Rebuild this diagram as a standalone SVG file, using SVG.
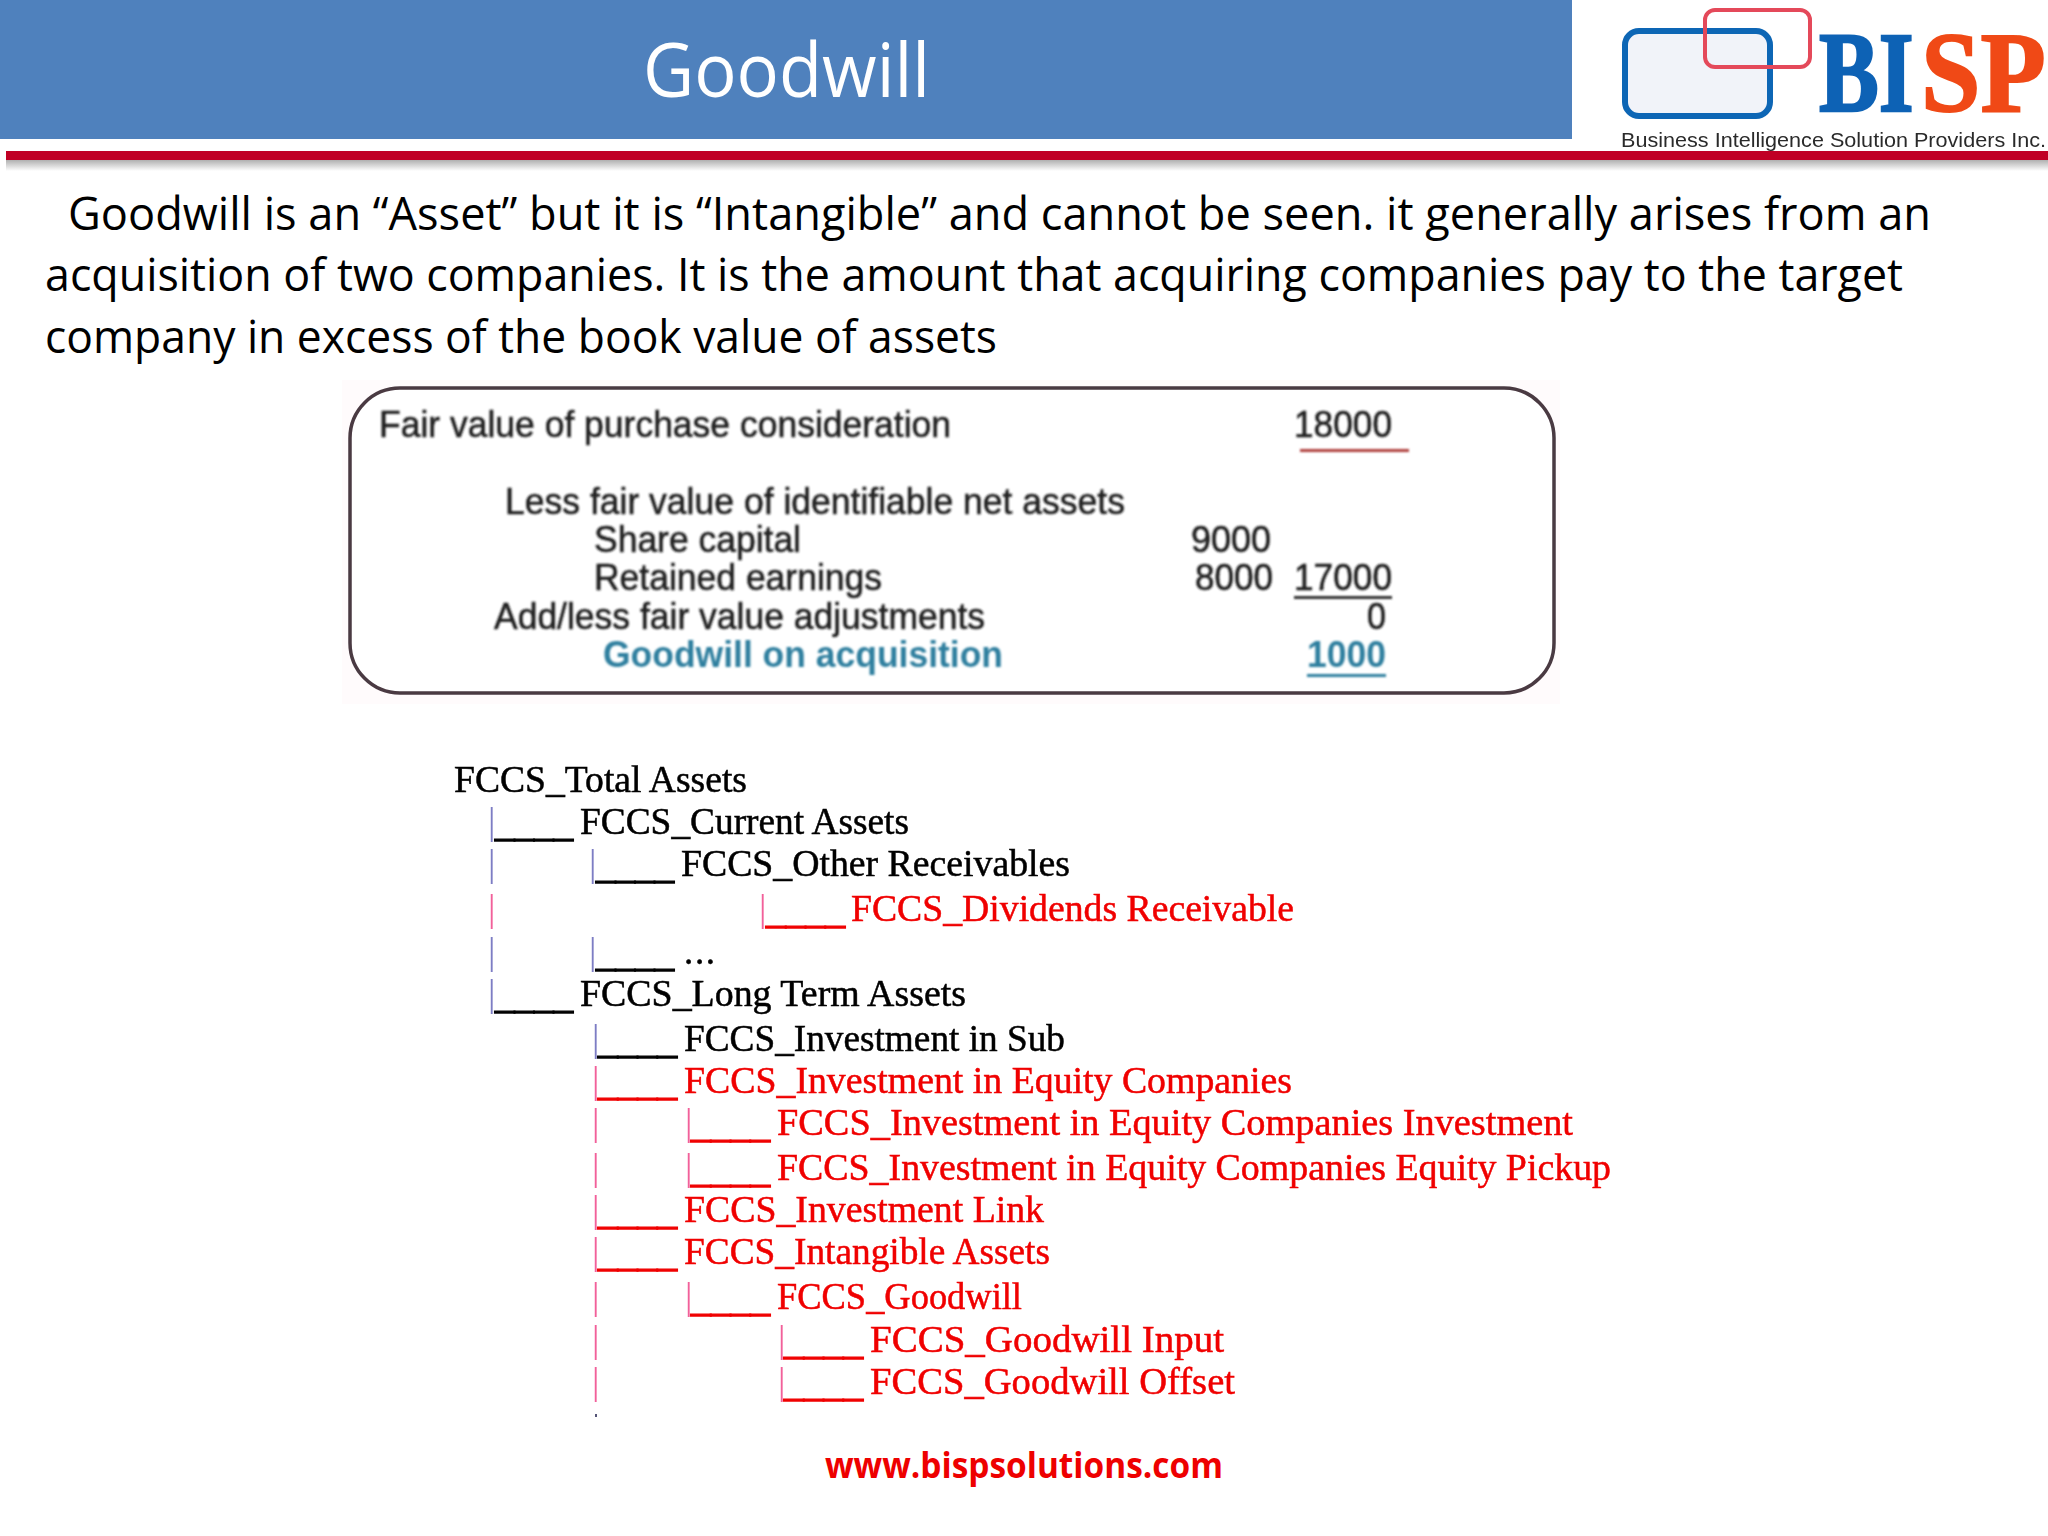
<svg xmlns="http://www.w3.org/2000/svg" width="2048" height="1536" viewBox="0 0 2048 1536">
<defs>
<filter id="soft" x="-5%" y="-5%" width="110%" height="110%"><feGaussianBlur stdDeviation="0.9"/></filter>
<filter id="softer" x="-5%" y="-5%" width="110%" height="110%"><feGaussianBlur stdDeviation="0.6"/></filter>
<linearGradient id="shadow" x1="0" y1="0" x2="0" y2="1"><stop offset="0" stop-color="#b0b0b0"/><stop offset="1" stop-color="#ffffff"/></linearGradient>
</defs>
<style>
.body{font-family:"Open Sans",sans-serif;font-size:46px;fill:#000000}
.tbl{font-family:"Liberation Sans",Arial,sans-serif;font-size:36px;fill:#1c1c1c;stroke:#1c1c1c;stroke-width:.5px}
.gw{font-family:"Liberation Sans",Arial,sans-serif;font-size:36px;font-weight:bold;fill:#2f7f9f}
.t{font-family:"Liberation Serif","Times New Roman",serif;font-size:37px;stroke-width:.5px}
.u{font-family:"Liberation Serif","Times New Roman",serif;font-size:37px;stroke-width:1.4px}
.k{fill:#000;stroke:#000}
.r{fill:#f00000;stroke:#f00000}
.pb{fill:#7d7dc4;stroke:none}
.pr{fill:#f2609a;stroke:none}
</style>
<rect width="2048" height="1536" fill="#ffffff"/>
<g id="header">
<rect x="0" y="0" width="1572" height="139" fill="#4f81bd"/>
<text x="643" y="97" textLength="287" lengthAdjust="spacingAndGlyphs" font-family="'Open Sans',sans-serif" font-size="75" fill="#ffffff">Goodwill</text>
<rect x="6" y="160" width="2042" height="11" fill="url(#shadow)"/>
<rect x="6" y="151" width="2042" height="9" fill="#c00025"/>
</g>
<g id="logo" filter="url(#softer)">
<rect x="1625" y="31" width="145" height="85" rx="14" fill="#f1f3f9" stroke="#1166b5" stroke-width="6"/>
<path d="M1715 10H1800A10 10 0 0 1 1810 20V57A10 10 0 0 1 1800 67H1715A10 10 0 0 1 1705 57V20A10 10 0 0 1 1715 10Z" fill="none" stroke="#e4495a" stroke-width="4"/>
<text transform="translate(1819 111) scale(.78 1)" font-family="'Liberation Serif',serif" font-weight="bold" font-size="115" fill="#0f62b5" stroke="#0f62b5" stroke-width="2.5">BI</text>
<text transform="translate(1921 111) scale(.93 1)" font-family="'Liberation Serif',serif" font-weight="bold" font-size="115" fill="#f04a14" stroke="#f04a14" stroke-width="2">SP</text>
<text x="1621" y="147" textLength="425" lengthAdjust="spacingAndGlyphs" font-family="'Liberation Sans',sans-serif" font-size="21" fill="#2a2a2a">Business Intelligence Solution Providers Inc.</text>
</g>
<g id="intro">
<text class="body" x="68" y="230" textLength="1863" lengthAdjust="spacingAndGlyphs">Goodwill is an “Asset” but it is “Intangible” and cannot be seen. it generally arises from an</text>
<text class="body" x="45" y="291" textLength="1858" lengthAdjust="spacingAndGlyphs">acquisition of two companies. It is the amount that acquiring companies pay to the target</text>
<text class="body" x="45" y="353" textLength="952" lengthAdjust="spacingAndGlyphs">company in excess of the book value of assets</text>
</g>
<g id="calculation">
<rect x="342" y="380" width="1218" height="324" fill="#fffbfc"/>
<rect x="350" y="388" width="1204" height="305" rx="50" fill="#ffffff" stroke="#4a3a42" stroke-width="3.5"/>
<g filter="url(#soft)">
<text class="tbl" x="379" y="437" textLength="572" lengthAdjust="spacingAndGlyphs">Fair value of purchase consideration</text>
<text class="tbl" x="1294" y="437" textLength="98" lengthAdjust="spacingAndGlyphs">18000</text>
<rect x="1300" y="449" width="109" height="3" fill="#b0403c"/>
<text class="tbl" x="505" y="514" textLength="620" lengthAdjust="spacingAndGlyphs">Less fair value of identifiable net assets</text>
<text class="tbl" x="594" y="552" textLength="207" lengthAdjust="spacingAndGlyphs">Share capital</text>
<text class="tbl" x="1191" y="552" textLength="80" lengthAdjust="spacingAndGlyphs">9000</text>
<text class="tbl" x="594" y="590" textLength="288" lengthAdjust="spacingAndGlyphs">Retained earnings</text>
<text class="tbl" x="1195" y="590" textLength="78" lengthAdjust="spacingAndGlyphs">8000</text>
<text class="tbl" x="1294" y="590" textLength="98" lengthAdjust="spacingAndGlyphs">17000</text>
<rect x="1294" y="596" width="98" height="3" fill="#333333"/>
<text class="tbl" x="494" y="629" textLength="491" lengthAdjust="spacingAndGlyphs">Add/less fair value adjustments</text>
<text class="tbl" x="1367" y="629" textLength="19" lengthAdjust="spacingAndGlyphs">0</text>
<text class="gw" x="603" y="667" textLength="400" lengthAdjust="spacingAndGlyphs">Goodwill on acquisition</text>
<text class="gw" x="1307" y="667" textLength="79" lengthAdjust="spacingAndGlyphs">1000</text>
<rect x="1307" y="674" width="79" height="3" fill="#2f7f9f"/>
</g>
</g>
<g id="hierarchy" filter="url(#softer)">
<text class="t k" x="454" y="792" textLength="293" lengthAdjust="spacingAndGlyphs">FCCS_Total Assets</text>

<text class="t pb" x="488" y="834">|</text>
<text class="u k" x="495" y="836" textLength="78" lengthAdjust="spacingAndGlyphs">____</text>
<text class="t k" x="580" y="834" textLength="329" lengthAdjust="spacingAndGlyphs">FCCS_Current Assets</text>

<text class="t pb" x="488" y="876">|</text>
<text class="t pb" x="589" y="876">|</text>
<text class="u k" x="596" y="878" textLength="78" lengthAdjust="spacingAndGlyphs">____</text>
<text class="t k" x="681" y="876" textLength="389" lengthAdjust="spacingAndGlyphs">FCCS_Other Receivables</text>

<text class="t pr" x="488" y="921">|</text>
<text class="t pr" x="759" y="921">|</text>
<text class="u r" x="766" y="923" textLength="79" lengthAdjust="spacingAndGlyphs">____</text>
<text class="t r" x="851" y="921" textLength="443" lengthAdjust="spacingAndGlyphs">FCCS_Dividends  Receivable</text>

<text class="t pb" x="488" y="964">|</text>
<text class="t pb" x="589" y="964">|</text>
<text class="u k" x="596" y="966" textLength="78" lengthAdjust="spacingAndGlyphs">____</text>
<text class="t k" x="684" y="964" textLength="31" lengthAdjust="spacing">...</text>

<text class="t pb" x="488" y="1006">|</text>
<text class="u k" x="495" y="1008" textLength="78" lengthAdjust="spacingAndGlyphs">____</text>
<text class="t k" x="580" y="1006" textLength="386" lengthAdjust="spacingAndGlyphs">FCCS_Long Term Assets</text>

<text class="t pb" x="592" y="1051">|</text>
<text class="u k" x="598" y="1053" textLength="79" lengthAdjust="spacingAndGlyphs">____</text>
<text class="t k" x="684" y="1051" textLength="381" lengthAdjust="spacingAndGlyphs">FCCS_Investment in Sub</text>

<text class="t pr" x="592" y="1093">|</text>
<text class="u r" x="598" y="1095" textLength="79" lengthAdjust="spacingAndGlyphs">____</text>
<text class="t r" x="684" y="1093" textLength="608" lengthAdjust="spacingAndGlyphs">FCCS_Investment in Equity Companies</text>

<text class="t pr" x="592" y="1135">|</text>
<text class="t pr" x="685" y="1135">|</text>
<text class="u r" x="691" y="1137" textLength="79" lengthAdjust="spacingAndGlyphs">____</text>
<text class="t r" x="777" y="1135" textLength="796" lengthAdjust="spacingAndGlyphs">FCCS_Investment in Equity Companies  Investment</text>

<text class="t pr" x="592" y="1180">|</text>
<text class="t pr" x="685" y="1180">|</text>
<text class="u r" x="691" y="1182" textLength="79" lengthAdjust="spacingAndGlyphs">____</text>
<text class="t r" x="777" y="1180" textLength="834" lengthAdjust="spacingAndGlyphs">FCCS_Investment in Equity Companies  Equity Pickup</text>

<text class="t pr" x="592" y="1222">|</text>
<text class="u r" x="598" y="1224" textLength="79" lengthAdjust="spacingAndGlyphs">____</text>
<text class="t r" x="684" y="1222" textLength="360" lengthAdjust="spacingAndGlyphs">FCCS_Investment Link</text>

<text class="t pr" x="592" y="1264">|</text>
<text class="u r" x="598" y="1266" textLength="79" lengthAdjust="spacingAndGlyphs">____</text>
<text class="t r" x="684" y="1264" textLength="366" lengthAdjust="spacingAndGlyphs">FCCS_Intangible Assets</text>

<text class="t pr" x="592" y="1309">|</text>
<text class="t pr" x="685" y="1309">|</text>
<text class="u r" x="691" y="1311" textLength="79" lengthAdjust="spacingAndGlyphs">____</text>
<text class="t r" x="777" y="1309" textLength="245" lengthAdjust="spacingAndGlyphs">FCCS_Goodwill</text>

<text class="t pr" x="592" y="1352">|</text>
<text class="t pr" x="778" y="1352">|</text>
<text class="u r" x="784" y="1354" textLength="79" lengthAdjust="spacingAndGlyphs">____</text>
<text class="t r" x="870" y="1352" textLength="354" lengthAdjust="spacingAndGlyphs">FCCS_Goodwill   Input</text>

<text class="t pr" x="592" y="1394">|</text>
<text class="t pr" x="778" y="1394">|</text>
<text class="u r" x="784" y="1396" textLength="79" lengthAdjust="spacingAndGlyphs">____</text>
<text class="t r" x="870" y="1394" textLength="365" lengthAdjust="spacingAndGlyphs">FCCS_Goodwill   Offset</text>
<rect x="595" y="1414" width="2" height="3" fill="#555577"/>
</g>
<g id="footer">
<text x="825" y="1478" textLength="398" lengthAdjust="spacingAndGlyphs" font-family="'Open Sans',sans-serif" font-weight="bold" font-size="36" fill="#ee0000">www.bispsolutions.com</text>
</g>
</svg>
